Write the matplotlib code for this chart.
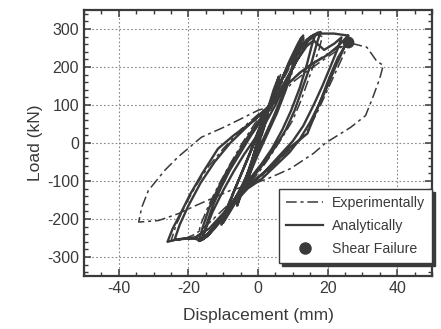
"""
Load-displacement hysteresis: experimental vs analytical response, with the
shear failure point marked.
"""

import matplotlib

matplotlib.use("Agg")
import matplotlib.pyplot as plt
from matplotlib.lines import Line2D
from matplotlib.ticker import MultipleLocator

plt.rcParams["font.family"] = ["Liberation Sans", "DejaVu Sans"]
plt.rcParams["axes.unicode_minus"] = False

INK = "#3a3a3a"

# analytical cycles (displacement mm, load kN)
ana_c1_x = [0, 1.5, 3, 2, 0, -2, -3.5, -2.5, -0.5, 1.5, 3]
ana_c1_y = [0, 50, 95, 70, 15, -60, -110, -85, -30, 40, 95]
ana_c2_x = [4.5, 6, 5, 3, 0.5, -2, -4.5, -6, -5, -3, -0.5, 2, 4]
ana_c2_y = [140, 175, 145, 90, 20, -55, -120, -165, -140, -80, -10, 60, 110]
ana_c3_x = [7, 10, 12.5, 13, 12, 10, 8, 5.5, 3, 0, -3.5, -7, -10, -9, -7, -4.5, -2, 0.5, 3]
ana_c3_y = [170, 230, 275, 283, 255, 200, 140, 80, 30, -30, -105, -165, -210, -180, -130, -75, -20, 40, 90]
ana_c3b_x = [6, 9, 11.5, 12.5, 11.5, 9.5, 7, 4.5, 2, -1, -4.5, -8, -10.5, -9.5, -7.5, -5, -2.5, 0, 2.5]
ana_c3b_y = [150, 215, 262, 278, 250, 190, 125, 70, 20, -40, -110, -170, -215, -185, -140, -85, -30, 30, 80]
ana_c4_x = [6, 9, 12, 15, 17, 18, 17, 15.5, 13, 10.5, 8, 5, 2, -1, -4, -7, -10, -13,
            -15.5, -17, -16, -14, -11.5, -9, -6, -3, 0, 2.5]
ana_c4_y = [150, 205, 245, 275, 290, 292, 265, 215, 150, 85, 35, -10, -50, -85, -120, -155, -190, -225,
            -250, -258, -225, -170, -120, -75, -30, 15, 55, 88]
ana_c4b_x = [5.5, 8.5, 11.5, 14, 16, 16.5, 15.5, 14, 12, 9.5, 7, 4, 1, -2, -5, -8.5, -11.5, -14,
             -16, -15, -13, -10.5, -8, -5, -2, 1, 3.5]
ana_c4b_y = [140, 200, 245, 272, 285, 286, 258, 205, 145, 85, 35, -15, -55, -90, -125, -170, -210, -240,
             -255, -220, -165, -115, -70, -25, 20, 60, 95]
ana_c5_x = [5, 8, 12, 16, 20, 23, 26, 25.5, 24, 22, 20, 18, 15, 12, 9, 5, 1, -3, -6, -9, -12,
            -14.5, -16.5, -18, -21, -24, -26, -24.5, -22.5, -19.5, -16, -11.5, -7, -1, 2, 4.7,
            8.5, 12.3, 15, 18, 21.8, 25.7]
ana_c5_y = [110, 150, 185, 210, 232, 255, 283, 268, 235, 195, 150, 110, 55, 10, -25, -60, -95, -120, -150, -185, -220,
            -245, -256, -252, -252, -255, -260, -225, -190, -135, -80, -15, 20, 60, 86, 112,
            174, 235, 279, 288, 288, 283]
ana_c5b_x = [25, 23, 21.8, 20, 18, 14.2, 9.4, 4.7, -2.9, -6.8, -12.5, -16.3,
             -15, -13, -10, -7, -4, -1, 2, 5, 8, 11, 14, 16]
ana_c5b_y = [255, 225, 200, 160, 112, 25, -10, -54, -116, -151, -221, -256,
             -225, -180, -125, -75, -30, 10, 50, 100, 160, 215, 255, 270]
ana_c6_x = [19, 22, 24, 23, 21, 18.5, 16, 13, 10, 6, 2, -2, -6, -10, -14, -18, -22, -24,
            -22.5, -20, -16.5, -12.5, -8, -3.5, 0.5, 3.5]
ana_c6_y = [245, 262, 278, 250, 205, 150, 100, 45, 5, -35, -75, -105, -140, -185, -225, -248, -252, -255,
            -215, -165, -105, -50, 0, 40, 75, 100]

# experimental cycles
exp_c1_x = [0, 2, 3.5, 2.5, 0.5, -1.5, -3.5, -2.5, 0, 2, 3.5]
exp_c1_y = [0, 55, 100, 75, 20, -50, -105, -80, -15, 45, 100]
exp_c2_x = [5, 6.5, 5.5, 3.5, 1, -2, -5, -6, -4.5, -2, 0.5, 3]
exp_c2_y = [140, 180, 150, 95, 30, -60, -130, -160, -120, -55, 10, 70]
exp_c3_x = [6, 9, 12, 13.5, 12.5, 10, 7, 4, 1, -2.5, -6, -9, -10.5, -9, -6.5, -3.5, -0.5, 2.5]
exp_c3_y = [140, 210, 265, 282, 255, 190, 115, 55, 0, -70, -140, -190, -205, -170, -115, -55, 10, 75]
exp_c3b_x = [5.5, 8.5, 11, 12.5, 11.5, 9, 6.5, 3.5, 0.5, -3, -6.5, -9.5, -10, -8.5, -6, -3, 0, 3]
exp_c3b_y = [135, 200, 250, 270, 240, 175, 105, 45, -10, -80, -150, -195, -200, -160, -105, -45, 20, 85]
exp_c4_x = [6, 10, 14, 17, 18.5, 17.5, 15, 12.5, 10, 7, 3.5, 0, -4, -8, -12, -15, -17.5,
            -16.5, -14, -11, -8, -4.5, -1, 2]
exp_c4_y = [145, 215, 265, 285, 280, 245, 180, 115, 60, 15, -35, -80, -125, -175, -215, -245, -255,
            -215, -160, -105, -55, 0, 50, 85]
exp_c5_x = [6, 10, 15, 19, 23, 26, 25, 23, 20, 17, 13.5, 10, 6, 2, -2, -6, -10, -14, -18, -22, -25,
            -23.5, -21, -18, -14.5, -10, -5, 0, 3]
exp_c5_y = [120, 160, 195, 220, 245, 268, 240, 200, 140, 80, 20, -10, -45, -80, -110, -140, -175, -210, -240, -255, -258,
            -215, -165, -115, -65, -15, 35, 75, 95]
exp_c6_x = [8, 14, 20, 24, 27, 31.3, 34, 36, 35, 33, 30.9, 26.6, 19.4, 16, 9.4, 2.8, -3, -8, -13, -18,
            -22.9, -28.6, -34.3, -33.4, -31.5, -26.8, -23, -16.3, -9.7, -4.8, 0, 2.8]
exp_c6_y = [150, 200, 235, 255, 262, 252, 217, 204, 170, 120, 72, 41, 0, -27, -67, -94, -112, -125, -145, -165,
            -186, -204, -208, -169, -125, -72, -37, 15, 42, 64, 86, 94]

failure_x = [26]
failure_y = [266]

ana_x = ana_c1_x + ana_c2_x + ana_c3_x + ana_c3b_x + ana_c4_x + ana_c4b_x + ana_c5_x + ana_c5b_x + ana_c6_x
ana_y = ana_c1_y + ana_c2_y + ana_c3_y + ana_c3b_y + ana_c4_y + ana_c4b_y + ana_c5_y + ana_c5b_y + ana_c6_y
exp_x = exp_c1_x + exp_c2_x + exp_c3_x + exp_c3b_x + exp_c4_x + exp_c5_x + exp_c6_x
exp_y = exp_c1_y + exp_c2_y + exp_c3_y + exp_c3b_y + exp_c4_y + exp_c5_y + exp_c6_y

fig = plt.figure(figsize=(4.41, 3.29), dpi=100)
ax = fig.add_axes([0.1905, 0.161, 0.789, 0.8086])

ax.plot(exp_x, exp_y, color=INK, lw=1.1, dashes=[7, 2.5, 2, 2.5])
ax.plot(ana_x, ana_y, color=INK, lw=1.7, solid_joinstyle="round")
ax.plot(failure_x, failure_y, "o", color=INK, ms=7.5)

ax.set_xlim(-50, 50)
ax.set_ylim(-350, 350)
ax.xaxis.set_major_locator(MultipleLocator(20))
ax.xaxis.set_minor_locator(MultipleLocator(5))
ax.yaxis.set_major_locator(MultipleLocator(100))
ax.yaxis.set_minor_locator(MultipleLocator(20))
ax.tick_params(which="both", direction="in", top=True, right=True, colors=INK, labelsize=11.5)
ax.tick_params(which="major", length=5, width=1.1)
ax.tick_params(which="minor", length=3, width=1.0)
ax.grid(True, which="major", ls=(0, (1.5, 2)), color="#888888", lw=0.8)
for s in ax.spines.values():
    s.set_color(INK)
    s.set_linewidth(1.6)

ax.set_xlabel("Displacement (mm)", fontsize=12.5, color=INK, labelpad=9)
ax.set_ylabel("Load (kN)", fontsize=12.5, color=INK, labelpad=3)

handles = [
    Line2D([], [], color=INK, lw=1.1, dashes=[7, 2.5, 2, 2.5]),
    Line2D([], [], color=INK, lw=1.6),
    Line2D([], [], marker="o", ls="none", color=INK, ms=8),
]
leg = ax.legend(handles, ["Experimentally", "Analytically", "Shear Failure"],
                loc="lower right", bbox_to_anchor=(1.0, 0.05), fontsize=10.2,
                frameon=True, fancybox=False, edgecolor=INK, framealpha=1,
                handlelength=2.6, handletextpad=0.6, borderaxespad=0, labelspacing=0.62,
                borderpad=0.5, shadow={"color": INK, "alpha": 1})
leg.get_frame().set_linewidth(1.0)
for t in leg.get_texts():
    t.set_color(INK)

fig.savefig("out.png", dpi=100)
